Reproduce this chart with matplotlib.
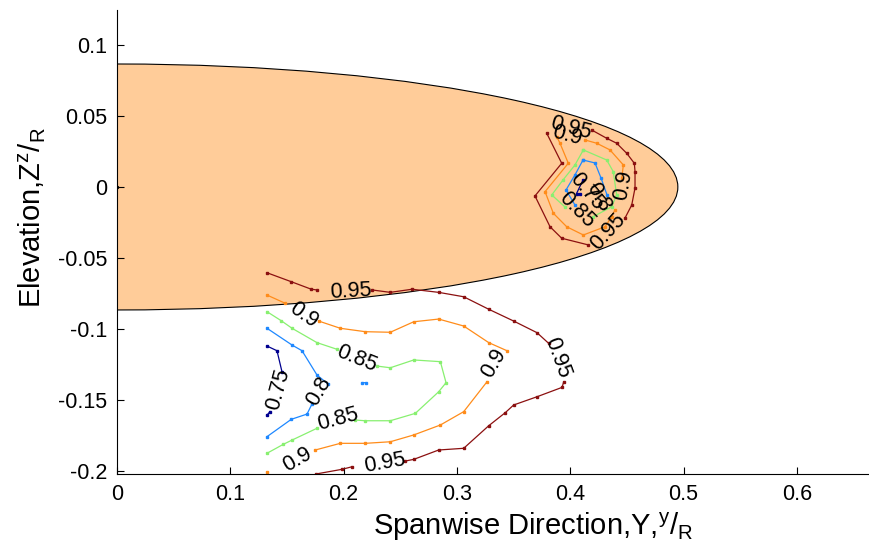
# Contornos de velocidade em torno do corpo elíptico

import numpy as np
import matplotlib.pyplot as plt
from matplotlib.patches import Ellipse

plt.rcParams['font.family'] = ['Liberation Sans', 'DejaVu Sans']
plt.rcParams['mathtext.default'] = 'regular'

nan = np.nan

# corpo (meia elipse)
body_len = 0.495
body_half = 0.0866

# cores dos níveis (jet)
level_colors = {0.75: '#00008F', 0.8: '#1E88FF', 0.85: '#88F070', 0.9: '#FF8C1A', 0.95: '#8B1010'}

# --- contornos abaixo do corpo ---
lo95_x = [0.1324, 0.1538, 0.1715, 0.1765, nan, 0.2251, 0.2412, 0.2604, 0.2839, 0.3060, 0.3281, 0.3501,
          0.3707, 0.3810, nan, 0.3943, 0.3928, 0.3707, 0.3501, 0.3427, 0.3281, 0.3060, 0.2839, 0.2619,
          0.2542, nan, 0.2074, 0.1986, 0.1756]
lo95_y = [-0.0604, -0.0667, -0.0720, -0.0725, nan, -0.0725, -0.0742, -0.0720, -0.0742, -0.0773, -0.0861, -0.0944,
          -0.1026, -0.1101, nan, -0.1371, -0.1411, -0.1477, -0.1535, -0.1589, -0.1681, -0.1840, -0.1852, -0.1918,
          -0.1930, nan, -0.1970, -0.1988, -0.2021]

lo90_x = [0.1324, 0.1485, nan, 0.1780, 0.1971, 0.2192, 0.2412, 0.2619, 0.2839, 0.3060, 0.3281, 0.3442, nan,
          0.3266, 0.3060, 0.2854, 0.2619, 0.2412, 0.2192, 0.1971, 0.1750, nan, 0.1324]
lo90_y = [-0.0761, -0.0819, nan, -0.0944, -0.0995, -0.1019, -0.1023, -0.0949, -0.0930, -0.0979, -0.1096, -0.1153, nan,
          -0.1371, -0.1582, -0.1676, -0.1746, -0.1794, -0.1805, -0.1805, -0.1852, nan, -0.2005]

lo85_x = [0.1324, 0.1450, 0.1545, 0.1765, 0.1942, nan, 0.2295, 0.2412, 0.2619, 0.2854, 0.2904, 0.2839, 0.2633,
          0.2412, 0.2192, 0.2101, nan, 0.1765, 0.1545, 0.1468, 0.1324]
lo85_y = [-0.0878, -0.0942, -0.0995, -0.1096, -0.1143, nan, -0.1261, -0.1273, -0.1218, -0.1230, -0.1378, -0.1442, -0.1594,
          -0.1646, -0.1646, -0.1641, nan, -0.1699, -0.1782, -0.1812, -0.1875]

lo80_x = [0.1324, 0.1545, 0.1633, 0.1765, 0.1862, nan, 0.1721, 0.1677, 0.1538, 0.1324, nan, 0.2165, 0.2200]
lo80_y = [-0.0995, -0.1113, -0.1153, -0.1324, -0.1387, nan, -0.1528, -0.1599, -0.1636, -0.1758, nan, -0.1378, -0.1378]

lo75_x = [0.1324, 0.1412, 0.1456, nan, 0.1350, 0.1324]
lo75_y = [-0.1120, -0.1153, -0.1301, nan, -0.1582, -0.1606]

# --- contornos sobre o corpo ---
up95_x = [0.4190, 0.4322, 0.4410, 0.4499, 0.4566, 0.4572, 0.4572, 0.4543, 0.4484, nan,
          0.4160, 0.3925, 0.3822, 0.3689, 0.3925, 0.3793]
up95_y = [0.0401, 0.0343, 0.0308, 0.0237, 0.0167, 0.0108, -0.0007, -0.0127, -0.0218, nan,
          -0.0408, -0.0361, -0.0280, -0.0063, 0.0167, 0.0378]

up90_x = [0.4131, 0.4234, 0.4351, 0.4469, 0.4455, nan, 0.4395, 0.4366, 0.4307, 0.4116, 0.3969,
          0.3851, 0.3778, 0.3983, 0.3910, 0.3881]
up90_y = [0.0331, 0.0308, 0.0261, 0.0155, 0.0061, nan, -0.0162, -0.0209, -0.0280, -0.0338, -0.0280,
          -0.0185, -0.0033, 0.0167, 0.0308, 0.0354]

up85_x = [0.4116, 0.4322, 0.4380, 0.4410, 0.4366, 0.4204, nan, 0.3954, 0.3837, 0.3936, 0.4042, 0.4116]
up85_y = [0.0261, 0.0190, 0.0108, -0.0056, -0.0139, -0.0209, nan, -0.0141, -0.0056, 0.0049, 0.0155, 0.0261]

up80_x = [0.4113, 0.4219, 0.4272, 0.4325, nan, 0.4042, 0.3963, 0.4042, 0.4113]
up80_y = [0.0190, 0.0169, 0.0063, -0.0056, nan, -0.0127, -0.0021, 0.0085, 0.0190]

up75_x = [0.4113, 0.4056, 0.4086]
up75_y = [0.0049, -0.0046, -0.0049]

# rótulos dos contornos: texto, x, y, rotação
lab_text = ['0.95', '0.9', '0.85', '0.9', '0.95', '0.75', '0.8', '0.85', '0.9', '0.95',
            '0.95', '0.9', '0.9', '0.95', '0.85', '0.8', '0.75']
lab_x = [0.2059, 0.1648, 0.2118, 0.3330, 0.3883, 0.1421, 0.1780, 0.1951, 0.1589, 0.2363,
         0.4007, 0.3972, 0.4466, 0.4334, 0.4060, 0.4245, 0.4148]
lab_y = [-0.0737, -0.0901, -0.1206, -0.1242, -0.1206, -0.1425, -0.1437, -0.1636, -0.1918, -0.1942,
         0.0415, 0.0359, 0.0014, -0.0317, -0.0162, -0.0070, -0.0035]
lab_rot = [3, -35, -22, 60, -70, 75, 60, 15, 30, 10,
           -15, -15, 80, 48, -45, -60, -50]

fig = plt.figure(figsize=(8.7, 5.54), dpi=100)
ax = fig.add_axes([0.1345, 0.1444, 0.8655, 0.8375])

ax.add_patch(Ellipse((0, 0), 2 * body_len, 2 * body_half, facecolor='#FFCC99',
                     edgecolor='black', linewidth=0.8, zorder=1))
ax.plot([0], [0], 'k.', markersize=3, zorder=3)

linhas = [(lo95_x, lo95_y, 0.95), (lo90_x, lo90_y, 0.9), (lo85_x, lo85_y, 0.85),
          (lo80_x, lo80_y, 0.8), (lo75_x, lo75_y, 0.75),
          (up95_x, up95_y, 0.95), (up90_x, up90_y, 0.9), (up85_x, up85_y, 0.85),
          (up80_x, up80_y, 0.8), (up75_x, up75_y, 0.75)]
for xs, ys, lev in linhas:
    ax.plot(xs, ys, '-s', color=level_colors[lev], linewidth=0.9,
            markersize=1.6, zorder=2)

for t, x, y, r in zip(lab_text, lab_x, lab_y, lab_rot):
    ax.text(x, y, t, rotation=r, ha='center', va='center', fontsize=15.5,
            rotation_mode='anchor', zorder=4)

ax.set_xlim(0, 0.6646)
ax.set_ylim(-0.2021, 0.1246)
ax.set_xticks([0, 0.1, 0.2, 0.3, 0.4, 0.5, 0.6])
ax.set_xticklabels(['0', '0.1', '0.2', '0.3', '0.4', '0.5', '0.6'])
ax.set_yticks([-0.2, -0.15, -0.1, -0.05, 0, 0.05, 0.1])
ax.set_yticklabels(['-0.2', '-0.15', '-0.1', '-0.05', '0', '0.05', '0.1'])
ax.tick_params(direction='in', length=5, width=0.8, labelsize=15.5, pad=7)
ax.spines['top'].set_visible(False)
ax.spines['right'].set_visible(False)

ax.set_xlabel('Spanwise Direction,Y,$^{y}$/$_{R}$', fontsize=21)
ax.set_ylabel('Elevation,Z$^{z}$/$_{R}$', fontsize=21)
ax.xaxis.set_label_coords(0.552, -0.078)
ax.yaxis.set_label_coords(-0.092, 0.552)

plt.savefig('out.png')
